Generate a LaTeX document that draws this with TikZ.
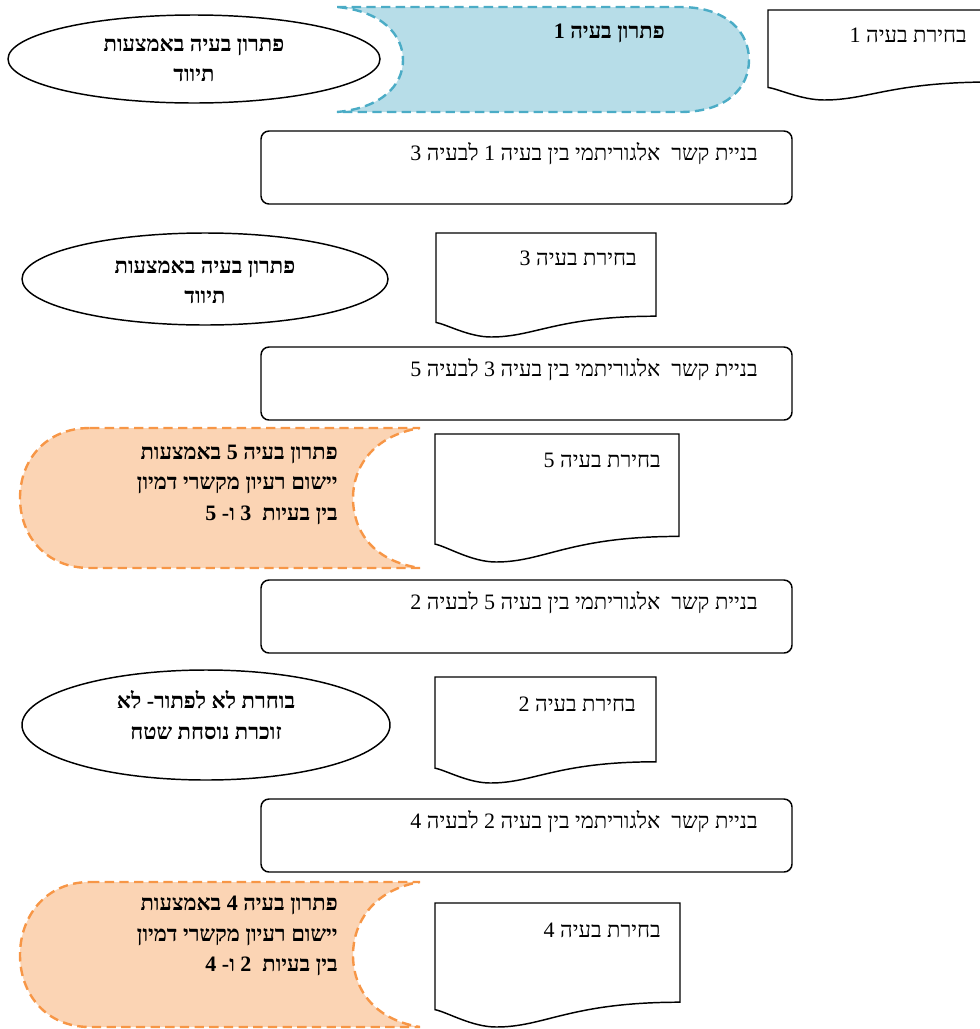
\documentclass[tikz,border=0pt]{standalone}
\usepackage{fontspec}
\setmainfont[Script=Hebrew]{Liberation Serif}
\TeXXeTstate=1
\usetikzlibrary{shapes.geometric}
\definecolor{blueFill}{RGB}{183,221,232}
\definecolor{blueLine}{RGB}{75,172,198}
\definecolor{orangeFill}{RGB}{251,212,180}
\definecolor{orangeLine}{RGB}{247,150,70}
\tikzset{
  outline/.style={draw=black,line width=1.1pt},
  linkbox/.style={outline,rounded corners=6pt},
  oval/.style={outline,ellipse,inner sep=0pt},
  bluebubble/.style={draw=blueLine,fill=blueFill,line width=1.8pt,dash pattern=on 7pt off 4pt},
  orangebubble/.style={draw=orangeLine,fill=orangeFill,line width=1.8pt,dash pattern=on 7pt off 4pt},
  plain/.style={font=\fontsize{16.5}{23}\selectfont,inner sep=0pt},
  heavy/.style={font=\fontsize{16.5}{23}\selectfont\bfseries,inner sep=0pt},
}
\newcommand{\docshape}[4]{%
  \draw[outline] (#1,#2) -- (#3,#2) -- (#3,{#2+0.8*(#4-#2)})
    .. controls ({#1+0.55*(#3-#1)},{#2+0.8*(#4-#2)}) and ({#1+0.45*(#3-#1)},#4) .. ({#1+0.25*(#3-#1)},#4)
    .. controls ({#1+0.15*(#3-#1)},#4) and ({#1+0.05*(#3-#1)},{#2+0.88*(#4-#2)}) .. (#1,{#2+0.86*(#4-#2)}) -- cycle;}

\begin{document}
\begin{tikzpicture}[x=0.75pt,y=-0.75pt]
\useasboundingbox (0,0) rectangle (979,1029);

\draw[bluebubble] (337,7) -- (680,7) .. controls (728,7) and (749,33) .. (749,60)
  .. controls (749,87) and (728,112) .. (680,112) -- (337,112)
  .. controls (382,108) and (403,85) .. (403,60) .. controls (403,35) and (382,11) .. (337,7) -- cycle;
\draw[orangebubble] (90,428) -- (420,428) .. controls (372,436) and (353,468) .. (353,498)
  .. controls (353,530) and (372,561) .. (420,568) -- (90,568)
  .. controls (45,568) and (20,535) .. (20,498) .. controls (20,461) and (45,428) .. (90,428) -- cycle;
\draw[orangebubble] (90,882) -- (420,882) .. controls (372,890) and (353,924) .. (353,955)
  .. controls (353,987) and (372,1019) .. (420,1027) -- (90,1027)
  .. controls (45,1027) and (20,993) .. (20,955) .. controls (20,917) and (45,882) .. (90,882) -- cycle;

\docshape{768}{10}{992}{100}
\docshape{436}{233}{656}{337}
\docshape{435}{434}{679}{562}
\docshape{435}{677}{656}{783}
\docshape{435}{903}{680}{1027}

\foreach \ytop/\pa/\pb in {131/1/3, 347/3/5, 580/5/2, 799/2/4}{
  \draw[linkbox] (261,\ytop) rectangle (792,\ytop+73);
  \node[plain,anchor=east] (link\pa) at (758,\ytop+23) {\beginR בניית קשר~ אלגוריתמי בין בעיה \pa\ לבעיה \pb\endR};
}

\node[oval,minimum width=279pt,minimum height=66pt] (tivud1) at (194,59) {};
\node[oval,minimum width=274.5pt,minimum height=69pt] (tivud3) at (205,279) {};
\node[oval,minimum width=276pt,minimum height=82.5pt] (skip2) at (206,725) {};

\node[heavy,anchor=east] (sol1) at (665,33) {\beginR פתרון בעיה 1\endR};
\node[heavy,align=center] (tivud1txt) at (194,60) {\beginR פתרון בעיה באמצעות\endR\\\beginR תיווד\endR};
\node[heavy,align=center] (tivud3txt) at (205,282) {\beginR פתרון בעיה באמצעות\endR\\\beginR תיווד\endR};
\node[heavy,align=center] (skip2txt) at (206,715) {\beginR בוחרת לא לפתור\kern0pt- לא\endR\\\beginR זוכרת נוסחת שטח\endR};
\node[heavy,align=right,anchor=east] (sol5) at (338,485) {\beginR פתרון בעיה 5 באמצעות\endR\\\beginR יישום רעיון מקשרי דמיון\endR\\\beginR בין בעיות~ 3 ו\kern0pt- 5\endR};
\node[heavy,align=right,anchor=east] (sol4) at (338,936) {\beginR פתרון בעיה 4 באמצעות\endR\\\beginR יישום רעיון מקשרי דמיון\endR\\\beginR בין בעיות~ 2 ו\kern0pt- 4\endR};

\node[plain,anchor=east] (pick1) at (967,35) {\beginR בחירת בעיה 1\endR};
\node[plain,anchor=east] (pick3) at (637,258) {\beginR בחירת בעיה 3\endR};
\node[plain,anchor=east] (pick5) at (661,460) {\beginR בחירת בעיה 5\endR};
\node[plain,anchor=east] (pick2) at (636,704) {\beginR בחירת בעיה 2\endR};
\node[plain,anchor=east] (pick4) at (661,930) {\beginR בחירת בעיה 4\endR};
\end{tikzpicture}
\end{document}
